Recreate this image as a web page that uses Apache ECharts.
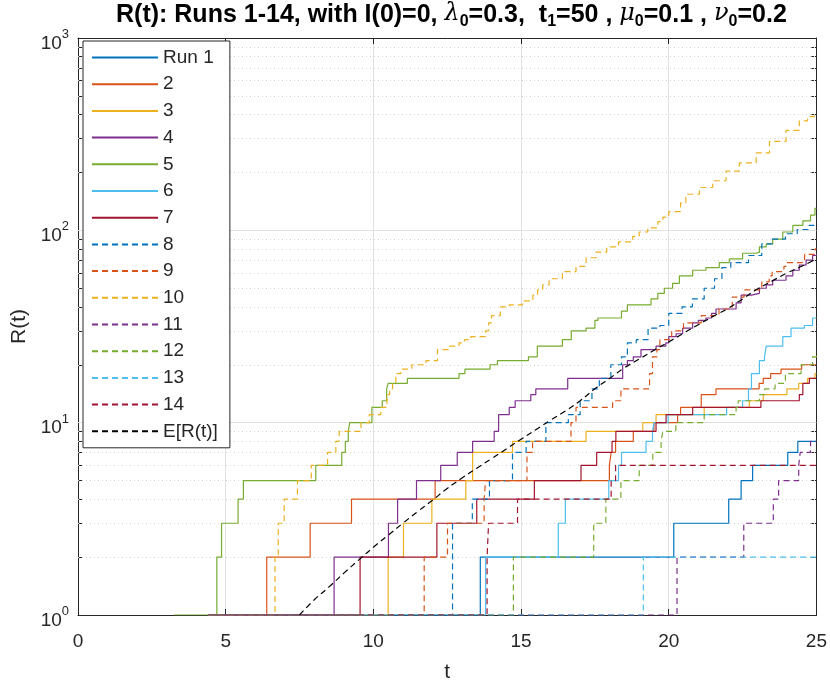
<!DOCTYPE html>
<html>
<head>
<meta charset="utf-8">
<script src="https://cdn.jsdelivr.net/npm/echarts@6/dist/echarts.min.js"></script>
<style>
  html, body { margin: 0; padding: 0; background: #fff; }
  #chart { width: 830px; height: 688px; }
</style>
</head>
<body>
<div id="chart"></div>
<script>
'use strict';

// step runs: [t, R] = value R holds from t on
var run1 = [[4.4,1],[13.62,2],[20.17,3],[22.03,4],[22.45,5],[22.84,6],[24.03,7],[24.37,8],[25,8]];
var run2 = [[4.4,1],[6.39,2],[7.86,3],[9.26,4],[12.09,5],[17.99,6],[18.05,7],[18.2,8],[18.8,9],[19.5,10],[20.3,11],[20.4,12],[21.1,14],[21.6,15],[23.06,16],[23.2,17],[23.45,18],[23.8,19],[24.5,20],[25,20]];
var run3 = [[4.4,1],[10.5,2],[11.02,3],[11.98,4],[13.13,5],[13.36,7],[14.71,8],[17.2,9],[19.12,10],[19.57,11],[21.2,12],[22.73,13],[23.2,14],[24.0,15],[24.4,16],[24.7,17],[24.95,18],[25,18]];
var run4 = [[4.4,1],[8.67,2],[10.51,3],[10.82,4],[11.46,5],[12.28,6],[12.84,7],[13.36,8],[14.09,9],[14.24,11],[14.6,12],[14.8,13],[15.33,14],[15.5,15],[16.58,17],[18.44,20],[18.6,21],[18.8,22],[19.06,24],[19.57,25],[19.9,26],[20.0,28],[20.25,29],[20.47,31],[20.81,33],[21.0,34],[21.26,35],[21.45,37],[21.6,39],[22.28,42],[22.45,46],[22.8,47],[23.07,50],[23.3,52],[23.52,55],[23.97,58],[24.2,62],[24.42,66],[24.65,70],[24.87,74],[25,75]];
var run5 = [[3.25,1],[4.7,2],[4.86,3],[5.42,4],[5.6,5],[8.05,6],[8.93,7],[9.05,8],[9.15,9],[9.2,10],[9.95,12],[10.3,13],[10.45,15],[10.5,16],[11.15,17],[12.9,18],[13.1,19],[13.95,20],[14.2,21],[15.25,22],[15.55,25],[16.4,27],[16.7,30],[17.2,31],[17.5,34],[17.6,35],[18.4,38],[18.6,41],[19.4,44],[19.63,47],[19.85,50],[20.13,53],[20.36,58],[20.81,62],[21.26,64],[21.71,68],[22.05,71],[22.5,76],[22.95,77],[23.07,82],[23.3,85],[23.52,90],[23.86,98],[24.2,106],[24.54,112],[24.8,120],[24.95,130],[25,130]];
var run6 = [[4.4,1],[13.8,2],[16.26,3],[16.5,4],[17.97,5],[18.3,6],[18.4,7],[19.23,8],[19.45,9],[19.5,10],[19.98,11],[21.96,12],[22.5,13],[22.7,15],[22.8,18],[23.07,21],[23.24,22],[23.3,25],[23.86,28],[24.14,31],[24.59,32],[24.87,35],[25,35]];
var run7 = [[4.4,1],[9.55,2],[12.15,3],[13.5,4],[15.45,5],[17.03,6],[17.56,7],[18.08,8],[18.21,9],[19.57,10],[19.91,11],[20.81,12],[23.12,13],[24.42,14],[24.54,16],[24.76,17],[25,17]];
var run8 = [[4.4,1],[12.68,3],[13.35,4],[13.93,5],[14.71,7],[15.17,8],[15.84,10],[16.6,11],[17.0,13],[17.4,15],[17.65,17],[18.04,20],[18.4,22],[18.6,26],[18.9,27],[19.3,31],[19.7,32],[20.0,37],[20.45,40],[20.8,44],[21.2,50],[21.55,56],[21.8,64],[22.1,68],[22.7,74],[23.15,85],[23.5,90],[23.95,96],[24.35,101],[24.75,106],[25,106]];
var run9 = [[4.4,1],[11.72,2],[12.51,3],[13.75,4],[13.8,5],[15.2,7],[15.39,8],[16.69,10],[16.86,12],[18.1,13],[18.38,15],[19.35,18],[19.45,22],[19.6,24],[19.7,27],[20.1,30],[20.5,33],[21.1,36],[21.7,39],[22.15,45],[22.55,49],[23.15,54],[23.4,58],[23.5,61],[23.9,65],[23.97,68],[24.6,75],[24.95,80],[25,80]];
var run10 = [[4.4,1],[6.67,2],[6.78,3],[6.98,4],[7.43,5],[7.9,6],[8.45,7],[8.73,8],[8.84,9],[9.58,10],[9.86,11],[10.25,12],[10.46,14],[10.55,15],[10.65,16],[10.76,18],[10.93,19],[11.3,20],[11.78,21],[12.17,24],[12.57,25],[12.9,26],[13.08,27],[13.3,28],[13.8,30],[13.9,33],[14.0,36],[14.3,40],[14.6,41],[15.05,43],[15.4,46],[15.56,49],[15.73,52],[15.95,56],[16.4,61],[16.86,65],[17.2,72],[17.54,77],[17.9,82],[18.3,87],[18.78,93],[19.0,98],[19.29,103],[19.63,111],[19.8,117],[20.0,125],[20.4,139],[20.58,154],[21.04,167],[21.49,181],[21.94,203],[22.39,224],[22.96,253],[23.41,290],[23.97,331],[24.42,371],[24.7,390],[24.93,400],[25,400]];
var run11 = [[4.4,1],[20.28,2],[22.54,3],[23.54,4],[23.72,5],[24.4,6],[24.45,7],[24.8,8],[25,8]];
var run12 = [[4.4,1],[14.74,2],[17.46,3],[17.87,4],[18.38,5],[19.0,6],[19.46,7],[19.74,8],[19.8,9],[20.24,10],[21.2,11],[22.28,12],[22.35,13],[23.07,14],[23.25,15],[23.6,16],[23.95,18],[24.48,20],[24.87,22],[25,23]];
var run13 = [[4.4,1],[19.14,2],[25,2]];
var run14 = [[4.4,1],[13.85,2],[13.9,3],[14.88,4],[18.05,5],[18.2,6],[25,6]];

// expected value curve
var eMean = [[7.5,1.0],[8,1.2],[8.5,1.4],[9,1.65],[9.5,1.93],[10,2.25],[10.5,2.6],[11,3.0],[11.5,3.45],[12,3.95],[12.5,4.55],[13,5.15],[13.5,5.8],[14,6.5],[14.5,7.3],[15,8.2],[15.5,9.2],[16,10.3],[16.5,11.5],[17,13.0],[17.5,15.0],[18,17.0],[18.5,19.3],[19,21.4],[19.5,23.8],[20,26.3],[20.5,29.2],[21,32.3],[21.5,35.7],[22,39.2],[22.5,44],[23,49.5],[23.5,54.5],[24,60],[24.5,65],[25,71]];

var runs = [run1, run2, run3, run4, run5, run6, run7, run8, run9, run10, run11, run12, run13, run14];
var runNames = ['Run 1', '2', '3', '4', '5', '6', '7', '8', '9', '10', '11', '12', '13', '14'];
var colors = ['#0072BD', '#D95319', '#EDB120', '#7E2F8E', '#77AC30', '#4DBEEE', '#A2142F'];

var xTicks = [0, 5, 10, 15, 20, 25];
var yMajor = [10, 100];
var yMinor = [2, 3, 4, 5, 6, 7, 8, 9, 20, 30, 40, 50, 60, 70, 80, 90, 200, 300, 400, 500, 600, 700, 800, 900];
var yAllTicks = [1, 2, 3, 4, 5, 6, 7, 8, 9, 10, 20, 30, 40, 50, 60, 70, 80, 90, 100, 200, 300, 400, 500, 600, 700, 800, 900, 1000];

var FONT = '"Liberation Sans", Arial, sans-serif';
var INK = '#262626';

var my_chart = echarts.init(document.getElementById('chart'), null, {renderer: 'canvas'});

var series_arr = [];
for (var i = 0; i < runs.length; i++) {
    series_arr.push({
        name: runNames[i],
        type: 'line',
        step: 'end',
        symbol: 'none',
        showSymbol: false,
        data: runs[i],
        lineStyle: {
            color: colors[i % 7],
            width: 1.2,
            type: i < 7 ? 'solid' : [6, 4]
        },
        itemStyle: {color: colors[i % 7]},
        emphasis: {disabled: true},
        z: 3
    });
}
series_arr.push({
    name: 'E[R(t)]',
    type: 'line',
    smooth: true,
    symbol: 'none',
    showSymbol: false,
    data: eMean,
    lineStyle: {color: '#000000', width: 1.2, type: [6, 4]},
    itemStyle: {color: '#000000'},
    emphasis: {disabled: true},
    z: 3
});
// y grid lines (log axis: major solid at decades, minor dotted)
series_arr.push({
    name: '_grid',
    type: 'line',
    data: [],
    silent: true,
    markLine: {
        silent: true,
        symbol: 'none',
        z: 1,
        animation: false,
        label: {show: false},
        data: yMinor.map(function (v) {
            return {yAxis: v, lineStyle: {color: '#d4d4d4', width: 1, type: [1, 3]}};
        }).concat(yMajor.map(function (v) {
            return {yAxis: v, lineStyle: {color: '#e0e0e0', width: 1, type: 'solid'}};
        }))
    }
});

var yLabelRich = {
    b: {fontSize: 19, fontFamily: FONT, color: INK, lineHeight: 20, padding: [6, 0, 0, 0], verticalAlign: 'top'},
    s: {fontSize: 13, fontFamily: FONT, color: INK, lineHeight: 14, verticalAlign: 'top'}
};

my_chart.setOption({
    animation: false,
    backgroundColor: '#ffffff',
    textStyle: {fontFamily: FONT},
    title: {
        left: 116,
        top: 2,
        padding: 0,
        text: 'R(t): Runs 1-14, with I(0)=0, {g|λ}{s|0}=0.3,  t{s|1}=50 , {g|μ}{s|0}=0.1 , {g|ν}{s|0}=0.2',
        textStyle: {
            fontSize: 25,
            fontWeight: 'bold',
            fontFamily: FONT,
            color: '#000',
            lineHeight: 27,
            rich: {
                g: {fontSize: 24, fontWeight: 'normal', fontStyle: 'italic', fontFamily: '"DejaVu Serif", serif', lineHeight: 27, verticalAlign: 'top', color: '#000'},
                s: {fontSize: 16, fontWeight: 'bold', fontFamily: FONT, lineHeight: 17, padding: [12, 0, 0, 0], verticalAlign: 'top', color: '#000'}
            }
        }
    },
    legend: {
        orient: 'vertical',
        left: 83,
        top: 41,
        padding: [7, 12, 7, 8],
        itemWidth: 66,
        itemHeight: 14,
        itemGap: 7.7,
        data: runNames.concat(['E[R(t)]']),
        backgroundColor: '#ffffff',
        borderColor: INK,
        borderWidth: 1,
        borderRadius: 0,
        selectedMode: false,
        itemStyle: {opacity: 0},
        textStyle: {fontSize: 19, fontFamily: FONT, color: INK, lineHeight: 19},
        z: 10
    },
    grid: {
        left: 78,
        right: 13,
        top: 38,
        bottom: 67,
        containLabel: false
    },
    xAxis: [{
        type: 'value',
        position: 'bottom',
        min: 0,
        max: 25,
        interval: 5,
        name: 't',
        nameLocation: 'middle',
        nameGap: 47,
        nameTextStyle: {fontSize: 21, fontFamily: FONT, color: INK},
        axisLine: {show: true, onZero: false, lineStyle: {color: INK, width: 1}},
        axisTick: {show: true, inside: true, length: 6, lineStyle: {color: INK}},
        axisLabel: {
            fontSize: 19, color: INK, margin: 17, fontFamily: FONT,
            formatter: function (v) { return xTicks.indexOf(v) >= 0 ? String(v) : ''; }
        },
        splitLine: {show: true, lineStyle: {color: '#e0e0e0', width: 1}}
    }, {
        type: 'value',
        position: 'top',
        min: 0,
        max: 25,
        interval: 5,
        axisLine: {show: true, onZero: false, lineStyle: {color: INK, width: 1}},
        axisTick: {show: true, inside: true, length: 6, lineStyle: {color: INK}},
        axisLabel: {show: false},
        splitLine: {show: false}
    }],
    yAxis: [{
        type: 'log',
        logBase: 10,
        position: 'left',
        min: 1,
        max: 1000,
        name: 'R(t)',
        nameLocation: 'middle',
        nameGap: 45,
        nameRotate: 90,
        nameTextStyle: {fontSize: 21, fontFamily: FONT, color: INK},
        axisLine: {show: true, onZero: false, lineStyle: {color: INK, width: 1}},
        axisTick: {show: true, inside: true, length: 5, customValues: yAllTicks, lineStyle: {color: INK}},
        axisLabel: {
            margin: 9,
            formatter: function (v) {
                var e = Math.round(Math.log10(v));
                return '{b|10}{s|' + e + '}';
            },
            rich: yLabelRich
        },
        splitLine: {show: false}
    }, {
        type: 'log',
        logBase: 10,
        position: 'right',
        min: 1,
        max: 1000,
        axisLine: {show: true, onZero: false, lineStyle: {color: INK, width: 1}},
        axisTick: {show: true, inside: true, length: 5, customValues: yAllTicks, lineStyle: {color: INK}},
        axisLabel: {show: false},
        splitLine: {show: false}
    }],
    series: series_arr
});
</script>
</body>
</html>
